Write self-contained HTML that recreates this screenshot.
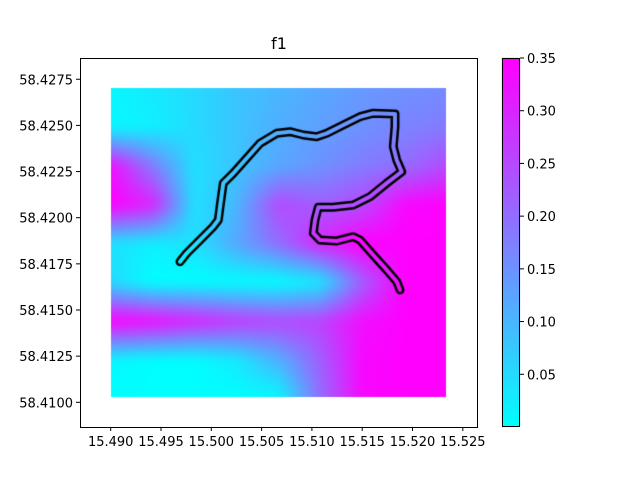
<!DOCTYPE html>
<html><head><meta charset="utf-8"><style>
body{margin:0;background:#fff;}
#wrap{position:relative;width:640px;height:480px;overflow:hidden;font-family:"DejaVu Sans","Liberation Sans",sans-serif;}
canvas{position:absolute;left:0;top:0;}
svg{position:absolute;left:0;top:0;}
</style></head><body>
<div id="wrap">
<canvas id="cv" width="640" height="480"></canvas>
<svg id="sv" width="640" height="480"></svg>
</div>
<script>
// ---- data ----
const gridLon = [15.4900,15.4942,15.4983,15.5025,15.5067,15.5108,15.5150,15.5192,15.5233];
const gridLat = [58.4270,58.4249,58.4228,58.4207,58.4186,58.4165,58.4144,58.4123,58.4103];
const gridVals = [
 [0.01,0.03,0.05,0.08,0.10,0.12,0.14,0.15,0.16],
 [0.01,0.02,0.05,0.08,0.11,0.13,0.15,0.17,0.18],
 [0.33,0.18,0.04,0.08,0.12,0.15,0.18,0.20,0.25],
 [0.35,0.30,0.04,0.10,0.25,0.22,0.25,0.34,0.35],
 [0.04,0.02,0.04,0.12,0.20,0.30,0.35,0.35,0.35],
 [0.05,0.00,0.00,0.00,0.00,0.03,0.22,0.35,0.35],
 [0.35,0.33,0.30,0.27,0.25,0.26,0.33,0.35,0.35],
 [0.01,0.00,0.00,0.03,0.11,0.22,0.34,0.35,0.35],
 [0.00,0.00,0.00,0.00,0.01,0.20,0.34,0.35,0.35]
];
const trackLon = [15.49689,15.49755,15.49888,15.50020,15.50070,15.50087,15.50119,15.50219,15.50352,15.50484,15.50650,15.50782,15.50915,15.51048,15.51147,15.51312,15.51478,15.51610,15.51826,15.51826,15.51809,15.51843,15.51893,15.51744,15.51578,15.51412,15.51213,15.51064,15.51031,15.51014,15.51081,15.51247,15.51412,15.51478,15.51610,15.51744,15.51843,15.51876];
const trackLat = [58.41762,58.41807,58.41879,58.41952,58.41988,58.42060,58.42187,58.42241,58.42322,58.42403,58.42457,58.42466,58.42448,58.42439,58.42457,58.42502,58.42547,58.42566,58.42562,58.42493,58.42385,58.42313,58.42249,58.42187,58.42114,58.42069,58.42057,58.42057,58.41988,58.41916,58.41879,58.41874,58.41897,58.41879,58.41798,58.41717,58.41654,58.41609];
const xTicks = [15.490,15.495,15.500,15.505,15.510,15.515,15.520,15.525];
const yTicks = [58.4100,58.4125,58.4150,58.4175,58.4200,58.4225,58.4250,58.4275];
const cTicks = [0.05,0.10,0.15,0.20,0.25,0.30,0.35];
const vmin = 0.0, vmax = 0.35;

// ---- scales ----
const xs = v => 110.7 + (v - 15.490) * 10060;
const ys = v => 402.3 - (v - 58.4100) * 18460;
const cs = v => 427 - (v - vmin) / (vmax - vmin) * 369;
const cool = t => { t=Math.max(0,Math.min(1,t)); return [Math.round(255*t), Math.round(255*(1-t)), 255]; };

// ---- heatmap ----
const cv = document.getElementById('cv'), ctx = cv.getContext('2d');
const x0 = Math.round(xs(gridLon[0])), x1 = Math.round(xs(gridLon[gridLon.length-1]));
const y0 = Math.round(ys(gridLat[0])), y1 = Math.round(ys(gridLat[gridLat.length-1]));
const P = 30;
const hc = document.createElement('canvas'); hc.width=640; hc.height=480;
const hx = hc.getContext('2d');
const W = x1-x0+2*P, H = y1-y0+2*P;
const img = hx.createImageData(W, H);
function idx(arr, v, asc){
  for(let i=0;i<arr.length-1;i++){
    const a=arr[i], b=arr[i+1];
    if((asc && v>=a && v<=b) || (!asc && v<=a && v>=b)) return i+(v-a)/(b-a);
  }
  return ((asc && v<arr[0]) || (!asc && v>arr[0])) ? 0 : arr.length-1;
}
for(let py=y0-P; py<y1+P; py++){
  const lat = 58.4100 + (402.3 - (py+0.5))/18460;
  const fy = idx(gridLat, lat, false);
  const j = Math.min(Math.floor(fy), gridLat.length-2), ty = fy-j;
  for(let px=x0-P; px<x1+P; px++){
    const lon = 15.490 + ((px+0.5) - 110.7)/10060;
    const fx = idx(gridLon, lon, true);
    const i = Math.min(Math.floor(fx), gridLon.length-2), tx = fx-i;
    const v = (gridVals[j][i]*(1-tx)+gridVals[j][i+1]*tx)*(1-ty) + (gridVals[j+1][i]*(1-tx)+gridVals[j+1][i+1]*tx)*ty;
    const c = cool((v-vmin)/(vmax-vmin));
    const k = ((py-(y0-P))*W+(px-(x0-P)))*4;
    img.data[k]=c[0]; img.data[k+1]=c[1]; img.data[k+2]=c[2]; img.data[k+3]=255;
  }
}
hx.putImageData(img, x0-P, y0-P);
ctx.save();
ctx.beginPath(); ctx.rect(x0,y0,x1-x0,y1-y0); ctx.clip();
ctx.filter='blur(5px)';
ctx.drawImage(hc,0,0);
ctx.filter='none';
ctx.restore();

// ---- track (hollow black line) ----
const tc = document.createElement('canvas'); tc.width=640; tc.height=480;
const t2 = tc.getContext('2d');
function trackPath(){ t2.beginPath(); trackLon.forEach((l,k)=>{ const X=xs(l), Y=ys(trackLat[k]); k?t2.lineTo(X,Y):t2.moveTo(X,Y); }); }
t2.lineJoin='round'; t2.lineCap='round';
trackPath(); t2.strokeStyle='#000'; t2.lineWidth=9; t2.stroke();
t2.globalCompositeOperation='destination-out';
trackPath(); t2.lineWidth=4; t2.stroke();
ctx.drawImage(tc,0,0);

// ---- colorbar ----
const cb = ctx.createLinearGradient(0,427,0,58);
for(let s=0;s<=10;s++){ const c=cool(s/10); cb.addColorStop(s/10,`rgb(${c[0]},${c[1]},${c[2]})`); }
ctx.fillStyle=cb; ctx.fillRect(502,58,18,369);

// ---- svg axes ----
const sv = document.getElementById('sv'), NS='http://www.w3.org/2000/svg';
function el(tag, attrs, txt){ const e=document.createElementNS(NS,tag); for(const k in attrs) e.setAttribute(k,attrs[k]); if(txt!==undefined) e.textContent=txt; sv.appendChild(e); return e; }
let e;
e = el('rect',{x:80.5,y:58.5,width:397,height:369,fill:'none',stroke:'#000','stroke-width':1});


e = el('rect',{x:502.5,y:58.5,width:17,height:368,fill:'none',stroke:'#000','stroke-width':1});


e = el('text',{x:279,y:49,'font-size':16,'text-anchor':'middle',fill:'#000'},'f1');


xTicks.forEach(v=>{
  const X=xs(v);
  e = el('line',{x1:X,x2:X,y1:427,y2:431,stroke:'#000'});
  
  
  e = el('text',{x:X,y:446,'font-size':13,'text-anchor':'middle',fill:'#000'},v.toFixed(3));
  
  
});
yTicks.forEach(v=>{
  const Y=ys(v);
  e = el('line',{x1:76,x2:80,y1:Y,y2:Y,stroke:'#000'});
  
  
  e = el('text',{x:73,y:Y+5,'font-size':13,'text-anchor':'end',fill:'#000'},v.toFixed(4));
  
  
});
cTicks.forEach(v=>{
  const Y=cs(v);
  e = el('line',{x1:520,x2:524,y1:Y,y2:Y,stroke:'#000'});
  
  
  e = el('text',{x:527,y:Y+5,'font-size':13,'text-anchor':'start',fill:'#000'},v.toFixed(2));
  
  
});
</script>
</body></html>
